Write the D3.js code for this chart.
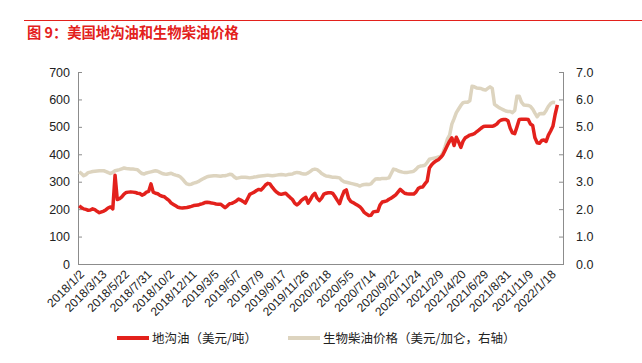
<!DOCTYPE html>
<html>
<head>
<meta charset="utf-8">
<script src="https://cdn.jsdelivr.net/npm/d3@7"></script>
<style>
  body { margin: 0; background: #fff; }
  svg { display: block; font-family: "Liberation Sans", Arial, "Noto Sans CJK SC", sans-serif; }
</style>
</head>
<body>
<div class="viz"></div>
<script>
const title = "图 9：美国地沟油和生物柴油价格";

// x tick labels, one every 10 weeks
const tickLabels = ["2018/1/2", "2018/3/13", "2018/5/22", "2018/7/31", "2018/10/2", "2018/12/11",
  "2019/3/5", "2019/5/7", "2019/7/9", "2019/9/17", "2019/11/26", "2020/2/18", "2020/5/5",
  "2020/7/14", "2020/9/22", "2020/11/24", "2021/2/9", "2021/4/20", "2021/6/29", "2021/8/31",
  "2021/11/9", "2022/1/18"];

const seriesNames = ["地沟油（美元/吨）", "生物柴油价格（美元/加仑，右轴）"];

// 地沟油, USD/t, weekly
const greaseValues = [
  212, 206, 201, 199, 196, 197, 201, 198, 192, 187,
  190, 193, 198, 205, 208, 201, 324, 235, 238, 245, 255,
  261, 262, 263, 262, 261, 258, 257, 251, 255, 262,
  265, 292, 262, 258, 256, 250, 247, 245, 238, 232, 222,
  217, 212, 207, 205, 204, 205, 206, 208, 210, 213,
  214, 215, 218, 220, 224, 225, 224, 222, 221, 219, 218,
  218, 212, 205, 212, 220, 221, 225, 230, 237, 233,
  228, 222, 238, 254, 258, 262, 268, 272, 270, 278, 288,
  294, 292, 280, 270, 262, 256, 254, 256, 258, 250,
  242, 235, 222, 215, 222, 232, 238, 243, 222, 235, 250,
  258, 240, 231, 240, 255, 258, 260, 260, 257, 245,
  232, 220, 245, 265, 270, 240, 228, 224, 219, 214, 209,
  200, 188, 182, 177, 178, 190, 191, 192, 215, 226,
  228, 230, 236, 240, 246, 252, 262, 272, 265, 258, 256,
  255, 255, 255, 262, 275, 280, 281, 292, 302, 350,
  362, 370, 376, 380, 388, 398, 415, 432, 448, 460, 432,
  462, 445, 425, 448, 460, 465, 470, 472, 475, 482,
  488, 495, 501, 502, 502, 502, 502, 505, 510, 520, 525,
  527, 527, 522, 495, 478, 475, 500, 527, 528, 528,
  528, 527, 510, 505, 460, 442, 440, 450, 452, 447, 470,
  485, 502, 545, 580
];

// 生物柴油, USD/gal (right axis), weekly
const biodieselValues = [
  3.36, 3.30, 3.22, 3.26, 3.33, 3.35, 3.37, 3.38, 3.39, 3.40,
  3.40, 3.40, 3.37, 3.33, 3.30, 3.34, 3.40, 3.42, 3.44, 3.47, 3.50,
  3.48, 3.47, 3.46, 3.46, 3.45, 3.44, 3.36, 3.30, 3.28, 3.32,
  3.34, 3.36, 3.38, 3.40, 3.38, 3.34, 3.30, 3.28, 3.27, 3.29, 3.31,
  3.27, 3.24, 3.22, 3.18, 3.10, 3.00, 2.92, 2.90, 2.91, 2.95,
  2.97, 3.00, 3.05, 3.10, 3.14, 3.18, 3.20, 3.21, 3.22, 3.22, 3.21,
  3.20, 3.22, 3.22, 3.24, 3.27, 3.26, 3.18, 3.12, 3.14, 3.16,
  3.16, 3.16, 3.15, 3.14, 3.15, 3.17, 3.18, 3.20, 3.21, 3.22, 3.23,
  3.24, 3.23, 3.22, 3.23, 3.24, 3.25, 3.26, 3.25, 3.24, 3.26,
  3.27, 3.28, 3.32, 3.34, 3.33, 3.30, 3.28, 3.28, 3.32, 3.38, 3.44,
  3.46, 3.44, 3.38, 3.30, 3.25, 3.21, 3.20, 3.18, 3.16, 3.16,
  3.15, 3.14, 3.05, 3.00, 2.98, 2.96, 2.94, 2.92, 2.90, 2.88, 2.84,
  2.88, 2.90, 2.91, 2.90, 2.92, 3.02, 3.10, 3.11, 3.10, 3.12,
  3.12, 3.12, 3.14, 3.30, 3.46, 3.44, 3.40, 3.37, 3.35, 3.34, 3.34,
  3.35, 3.36, 3.38, 3.45, 3.54, 3.57, 3.58, 3.60, 3.70, 3.82,
  3.84, 3.86, 3.88, 3.90, 3.92, 4.05, 4.28, 4.55, 4.70, 5.10, 5.30,
  5.52, 5.65, 5.78, 5.88, 5.90, 5.90, 5.95, 6.48, 6.46, 6.42,
  6.41, 6.40, 6.36, 6.34, 6.40, 6.46, 6.40, 5.82, 5.76, 5.70, 5.66,
  5.62, 5.58, 5.56, 5.56, 5.52, 5.60, 6.12, 6.12, 5.90, 5.80,
  5.79, 5.78, 5.75, 5.65, 5.50, 5.37, 5.48, 5.49, 5.48, 5.60, 5.75,
  5.85, 5.90, 5.89
];

const leftTicks = [0, 100, 200, 300, 400, 500, 600, 700];
const rightTicks = [0, 1, 2, 3, 4, 5, 6, 7];

const width = 642, height = 363;
const plot = { left: 78, right: 563, top: 72, bottom: 264 };
const weekCount = 216;

const red = "#e3211c";
const tan = "#ddd4bf";

var svg = d3.select(".viz")
  .append("svg")
  .attr("width", width)
  .attr("height", height);

/* header: red rule and title */
svg.append("line")
  .attr("x1", 24).attr("x2", width)
  .attr("y1", 20.5).attr("y2", 20.5)
  .attr("stroke", red)
  .attr("stroke-width", 1.2);

svg.append("text")
  .attr("x", 27)
  .attr("y", 38)
  .attr("fill", red)
  .style("font-family", "'Noto Sans CJK SC', sans-serif")
  .style("font-size", "14.3px")
  .style("font-weight", "bold")
  .text(title);

/* scales */
var xscale = d3.scaleLinear()
  .domain([-0.5, weekCount - 0.5])
  .range([plot.left, plot.right]);

var yleft = d3.scaleLinear()
  .domain([0, 700])
  .range([plot.bottom, plot.top]);

var yright = d3.scaleLinear()
  .domain([0, 7])
  .range([plot.bottom, plot.top]);

/* axes */
var leftaxis = d3.axisRight(yleft)
  .tickValues(leftTicks)
  .tickSize(4)
  .tickFormat(d3.format("d"));

var gl = svg.append("g")
  .attr("transform", "translate(" + plot.left + ",0)")
  .call(leftaxis);
gl.selectAll("text")
  .attr("x", -8)
  .attr("text-anchor", "end");

var rightaxis = d3.axisLeft(yright)
  .tickValues(rightTicks)
  .tickSize(4)
  .tickFormat(d3.format(".1f"));

var gr = svg.append("g")
  .attr("transform", "translate(" + plot.right + ",0)")
  .call(rightaxis);
gr.selectAll("text")
  .attr("x", 13)
  .attr("text-anchor", "start");

[gl, gr].forEach(function (g) {
  g.select(".domain").remove();
  g.selectAll(".tick line").attr("stroke", "#8c8c8c");
  g.selectAll("text")
    .attr("fill", "#222")
    .style("font-family", "'Liberation Sans', Arial, sans-serif")
    .style("font-size", "12.5px");
});

svg.append("line")
  .attr("x1", plot.left + 0.5).attr("x2", plot.left + 0.5)
  .attr("y1", plot.top).attr("y2", plot.bottom)
  .attr("stroke", "#8c8c8c");
svg.append("line")
  .attr("x1", plot.right + 0.5).attr("x2", plot.right + 0.5)
  .attr("y1", plot.top).attr("y2", plot.bottom)
  .attr("stroke", "#8c8c8c");
svg.append("line")
  .attr("x1", plot.left).attr("x2", plot.right + 1)
  .attr("y1", plot.bottom + 0.5).attr("y2", plot.bottom + 0.5)
  .attr("stroke", "#8c8c8c");

/* rotated x labels, every 10th week */
svg.append("g")
  .selectAll("text")
  .data(tickLabels)
  .enter()
  .append("text")
  .attr("transform", (d, i) => "translate(" + (xscale(i * 10) + 3) + "," + (plot.bottom + 8) + ") rotate(-45)")
  .attr("text-anchor", "end")
  .attr("dy", "0.35em")
  .attr("fill", "#222")
  .style("font-family", "'Liberation Sans', Arial, sans-serif")
  .style("font-size", "12px")
  .text((d) => d);

/* lines */
var leftline = d3.line()
  .x((d, i) => xscale(i))
  .y((d) => yleft(d));

var rightline = d3.line()
  .x((d, i) => xscale(i))
  .y((d) => yright(d));

svg.append("path")
  .datum(biodieselValues)
  .attr("d", rightline)
  .attr("fill", "none")
  .attr("stroke", tan)
  .attr("stroke-width", 3.5)
  .attr("stroke-linejoin", "round");

svg.append("path")
  .datum(greaseValues)
  .attr("d", leftline)
  .attr("fill", "none")
  .attr("stroke", red)
  .attr("stroke-width", 3.5)
  .attr("stroke-linejoin", "round");

/* legend */
var legend = svg.append("g");
var legendItems = [
  { name: seriesNames[0], color: red, x: 117 },
  { name: seriesNames[1], color: tan, x: 288 }
];
legendItems.forEach(function (item) {
  legend.append("line")
    .attr("x1", item.x).attr("x2", item.x + 32)
    .attr("y1", 338).attr("y2", 338)
    .attr("stroke", item.color)
    .attr("stroke-width", 4);
  legend.append("text")
    .attr("x", item.x + 35)
    .attr("y", 338)
    .attr("dy", "0.36em")
    .attr("fill", "#222")
    .style("font-family", "'Noto Sans CJK SC', sans-serif")
    .style("font-size", "12.5px")
    .text(item.name);
});
</script>
</body>
</html>
